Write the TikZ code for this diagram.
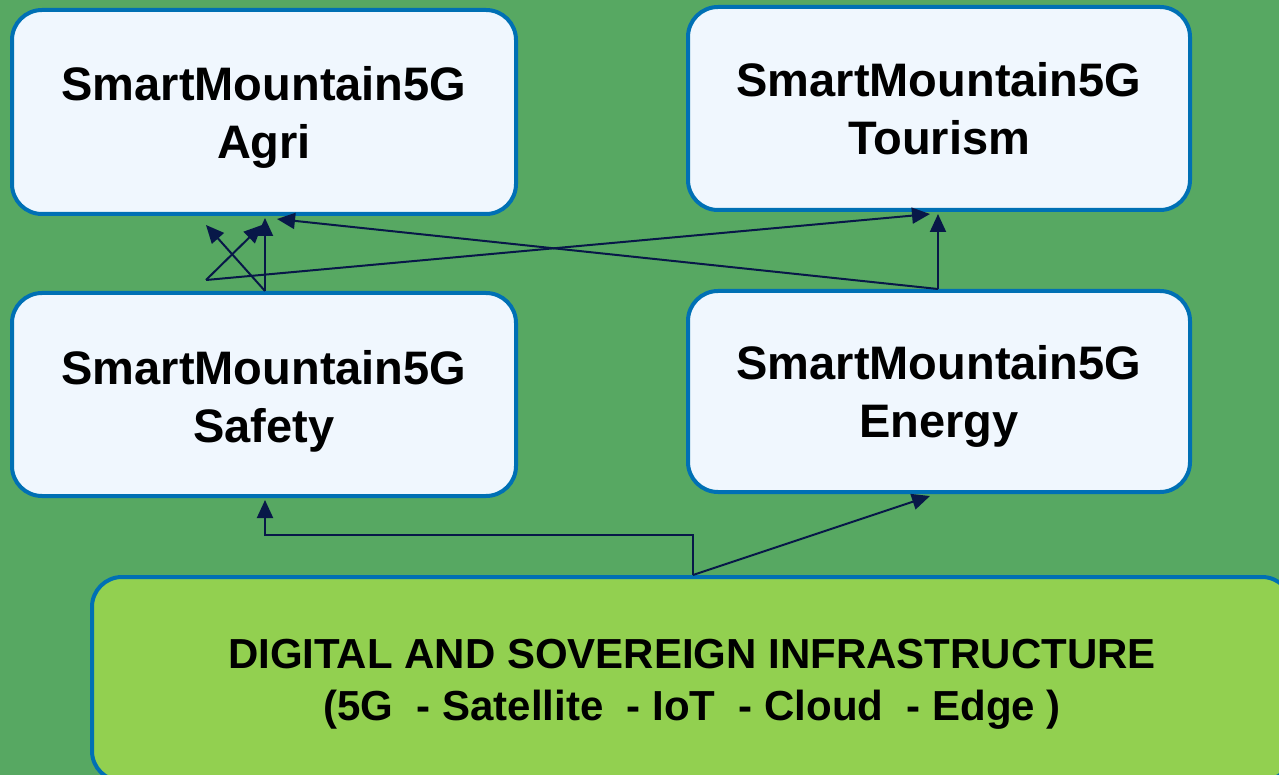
\documentclass[tikz,border=0pt]{standalone}
\usepackage{fontspec}
\setmainfont{Liberation Sans}
\usetikzlibrary{arrows.meta,calc}
\definecolor{bggreen}{RGB}{87,168,98}
\definecolor{boxfill}{RGB}{240,247,254}
\definecolor{boxborder}{RGB}{0,112,180}
\definecolor{arrowcol}{RGB}{8,24,72}
\definecolor{infrafill}{RGB}{146,208,80}
\tikzset{
  appbox/.style={draw=boxborder, line width=4pt, fill=boxfill, rounded corners=30pt, inner sep=0pt},
  apptext/.style={align=center, font=\fontsize{47}{58}\selectfont\bfseries, inner sep=0pt},
  infrabox/.style={draw=boxborder, line width=4pt, fill=infrafill, rounded corners=30pt, inner sep=0pt},
  infratext/.style={align=center, font=\fontsize{42}{52}\selectfont\bfseries, inner sep=0pt},
  conn/.style={draw=arrowcol, line width=2pt, -{Triangle[length=18pt,width=16pt]}}
}
\begin{document}
\begin{tikzpicture}[x=1pt,y=-1pt]
\useasboundingbox (0,0) rectangle (1279,775);
\clip (0,0) rectangle (1279,775);
\fill[bggreen] (0,0) rectangle (1279,775);
\node[appbox, minimum width=504pt, minimum height=204pt] (agri) at (264,112) {};
\node[apptext] (agritext) at ([yshift=-5pt]agri.center) {SmartMountain5G\\Agri};
\node[appbox, minimum width=502pt, minimum height=203pt] (tourism) at (939,108.5) {};
\node[apptext] (tourismtext) at (tourism.center) {SmartMountain5G\\Tourism};
\node[appbox, minimum width=504pt, minimum height=203pt] (safety) at (264,394.5) {};
\node[apptext] (safetytext) at ([yshift=-7pt]safety.center) {SmartMountain5G\\Safety};
\node[appbox, minimum width=502pt, minimum height=201pt] (energy) at (939,391.5) {};
\node[apptext] (energytext) at ([yshift=-5pt]energy.center) {SmartMountain5G\\Energy};
\node[infrabox, minimum width=1200pt, minimum height=204pt] (infra) at (692,679) {};
\node[infratext] (infratext) at ([yshift=-5pt]infra.center) {DIGITAL AND SOVEREIGN INFRASTRUCTURE\\(5G\ \ - Satellite\ \ - IoT\ \ - Cloud\ \ - Edge )};
\coordinate (j1) at (206,280);
% Safety -> Agri
\draw[conn] ([xshift=1pt]safety.north) -- ([xshift=1pt,yshift=-2pt]agri.south);
\draw[conn] ([xshift=1pt]safety.north) -- ([xshift=-58pt,yshift=-9pt]agri.south);
% junction arrows
\draw[conn] (j1) -- ([xshift=-2pt,yshift=-9pt]agri.south);
\draw[conn] (j1) -- ([xshift=-9pt,yshift=-2pt]tourism.south);
% Energy -> Tourism, Energy -> Agri
\draw[conn] ([xshift=-1pt]energy.north) -- ([xshift=-1pt,yshift=-2pt]tourism.south);
\draw[conn] ([xshift=-1pt]energy.north) -- ([xshift=13pt,yshift=-3pt]agri.south);
% Infra -> Safety, Infra -> Energy
\draw[conn] ([xshift=1pt]infra.north) -- ++(0,-40) -| ([xshift=1pt,yshift=-2pt]safety.south);
\draw[conn] ([xshift=1pt]infra.north) -- ([xshift=-9pt,yshift=-2pt]energy.south);
\end{tikzpicture}
\end{document}
